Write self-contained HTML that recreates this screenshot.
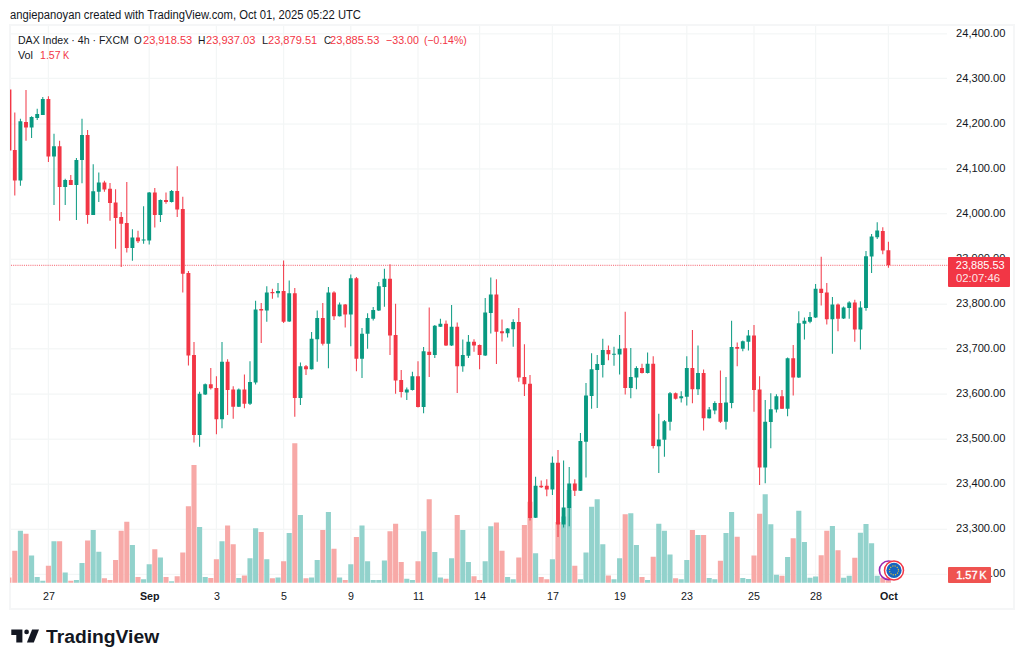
<!DOCTYPE html>
<html><head><meta charset="utf-8"><title>DAX Index</title>
<style>
html,body{margin:0;padding:0;background:#fff;}
body{width:1024px;height:665px;position:relative;overflow:hidden;font-family:"Liberation Sans",sans-serif;color:#131722;}
.t{position:absolute;white-space:pre;transform-origin:0 0;display:block;}
#frame{position:absolute;left:9px;top:24px;width:1006.2px;height:586px;border:2px solid #f5f6f7;box-sizing:border-box;}
#chart{position:absolute;left:0;top:0;}
#plabel{position:absolute;left:947.9px;top:257.3px;width:62px;height:29.5px;background:#f23645;border-radius:1px;}
#vlabel{position:absolute;left:948px;top:567px;width:43px;height:16px;background:#ef5350;border-radius:1px;}
#logo{position:absolute;left:11px;top:629px;}
</style></head><body>
<div id="frame"></div>
<svg id="chart" width="1024" height="665" viewBox="0 0 1024 665">
<g fill="#f3f6f6"><rect x="47.8" y="26" width="1.2" height="557" /><rect x="148.6" y="26" width="1.2" height="557" /><rect x="215.8" y="26" width="1.2" height="557" /><rect x="283" y="26" width="1.2" height="557" /><rect x="350.2" y="26" width="1.2" height="557" /><rect x="417.4" y="26" width="1.2" height="557" /><rect x="479" y="26" width="1.2" height="557" /><rect x="551.8" y="26" width="1.2" height="557" /><rect x="619" y="26" width="1.2" height="557" /><rect x="686.2" y="26" width="1.2" height="557" /><rect x="753.4" y="26" width="1.2" height="557" /><rect x="815" y="26" width="1.2" height="557" /><rect x="887.8" y="26" width="1.2" height="557" /><rect x="11" y="33.25" width="936" height="1.2" /><rect x="11" y="77.75" width="936" height="1.2" /><rect x="11" y="123.45" width="936" height="1.2" /><rect x="11" y="168.35" width="936" height="1.2" /><rect x="11" y="213.1" width="936" height="1.2" /><rect x="11" y="258.7" width="936" height="1.2" /><rect x="11" y="303.6" width="936" height="1.2" /><rect x="11" y="348.2" width="936" height="1.2" /><rect x="11" y="393.5" width="936" height="1.2" /><rect x="11" y="438.6" width="936" height="1.2" /><rect x="11" y="483.6" width="936" height="1.2" /><rect x="11" y="528.7" width="936" height="1.2" /><rect x="11" y="573.8" width="936" height="1.2" /></g>
<g fill="#92d2cc"><rect x="17.85" y="530.75" width="5.1" height="52"/><rect x="29.05" y="555.5" width="5.1" height="27.25"/><rect x="34.65" y="577" width="5.1" height="5.75"/><rect x="40.25" y="580.75" width="5.1" height="2"/><rect x="51.45" y="541.25" width="5.1" height="41.5"/><rect x="62.65" y="572.5" width="5.1" height="10.25"/><rect x="73.85" y="580" width="5.1" height="2.75"/><rect x="79.45" y="563" width="5.1" height="19.75"/><rect x="90.65" y="530" width="5.1" height="52.75"/><rect x="96.25" y="551.75" width="5.1" height="31"/><rect x="129.85" y="545" width="5.1" height="37.75"/><rect x="141.05" y="579.25" width="5.1" height="3.5"/><rect x="146.65" y="564.25" width="5.1" height="18.5"/><rect x="157.85" y="557.5" width="5.1" height="25.25"/><rect x="169.05" y="581.25" width="5.1" height="1.5"/><rect x="197.05" y="527" width="5.1" height="55.75"/><rect x="202.65" y="577" width="5.1" height="5.75"/><rect x="219.45" y="541.25" width="5.1" height="41.5"/><rect x="236.25" y="578" width="5.1" height="4.75"/><rect x="247.45" y="558.25" width="5.1" height="24.5"/><rect x="253.05" y="528.25" width="5.1" height="54.5"/><rect x="264.25" y="559.25" width="5.1" height="23.5"/><rect x="275.45" y="577.5" width="5.1" height="5.25"/><rect x="286.65" y="533" width="5.1" height="49.75"/><rect x="297.85" y="515" width="5.1" height="67.75"/><rect x="309.05" y="577.5" width="5.1" height="5.25"/><rect x="314.65" y="560" width="5.1" height="22.75"/><rect x="325.85" y="512" width="5.1" height="70.75"/><rect x="337.05" y="577.5" width="5.1" height="5.25"/><rect x="348.25" y="564.25" width="5.1" height="18.5"/><rect x="359.45" y="525.5" width="5.1" height="57.25"/><rect x="365.05" y="561.25" width="5.1" height="21.5"/><rect x="370.65" y="580" width="5.1" height="2.75"/><rect x="376.25" y="580" width="5.1" height="2.75"/><rect x="381.85" y="560.5" width="5.1" height="22.25"/><rect x="404.25" y="578.75" width="5.1" height="4"/><rect x="409.85" y="580" width="5.1" height="2.75"/><rect x="421.05" y="531.25" width="5.1" height="51.5"/><rect x="432.25" y="552" width="5.1" height="30.75"/><rect x="437.85" y="577.5" width="5.1" height="5.25"/><rect x="449.05" y="558.25" width="5.1" height="24.5"/><rect x="460.25" y="530" width="5.1" height="52.75"/><rect x="465.85" y="562" width="5.1" height="20.75"/><rect x="482.65" y="561.25" width="5.1" height="21.5"/><rect x="488.25" y="526.25" width="5.1" height="56.5"/><rect x="505.05" y="577" width="5.1" height="5.75"/><rect x="510.65" y="579.25" width="5.1" height="3.5"/><rect x="533.05" y="553.25" width="5.1" height="29.5"/><rect x="549.85" y="559.25" width="5.1" height="23.5"/><rect x="561.05" y="516.5" width="5.1" height="66.25"/><rect x="566.65" y="490" width="5.1" height="92.75"/><rect x="577.85" y="579.25" width="5.1" height="3.5"/><rect x="583.45" y="552.5" width="5.1" height="30.25"/><rect x="589.05" y="506.75" width="5.1" height="76"/><rect x="594.65" y="499.25" width="5.1" height="83.5"/><rect x="600.25" y="544.25" width="5.1" height="38.5"/><rect x="611.45" y="579.25" width="5.1" height="3.5"/><rect x="617.05" y="558.25" width="5.1" height="24.5"/><rect x="628.25" y="513.25" width="5.1" height="69.5"/><rect x="633.85" y="545" width="5.1" height="37.75"/><rect x="645.05" y="580" width="5.1" height="2.75"/><rect x="656.25" y="523.75" width="5.1" height="59"/><rect x="661.85" y="530.75" width="5.1" height="52"/><rect x="667.45" y="554.5" width="5.1" height="28.25"/><rect x="678.65" y="579.25" width="5.1" height="3.5"/><rect x="684.25" y="560" width="5.1" height="22.75"/><rect x="695.45" y="535" width="5.1" height="47.75"/><rect x="706.65" y="578" width="5.1" height="4.75"/><rect x="712.25" y="579.25" width="5.1" height="3.5"/><rect x="723.45" y="533" width="5.1" height="49.75"/><rect x="729.05" y="512" width="5.1" height="70.75"/><rect x="740.25" y="578" width="5.1" height="4.75"/><rect x="745.85" y="579" width="5.1" height="3.75"/><rect x="762.65" y="494.25" width="5.1" height="88.5"/><rect x="768.25" y="524.25" width="5.1" height="58.5"/><rect x="773.85" y="574.75" width="5.1" height="8"/><rect x="785.05" y="557" width="5.1" height="25.75"/><rect x="796.25" y="510.75" width="5.1" height="72"/><rect x="801.85" y="542" width="5.1" height="40.75"/><rect x="807.45" y="577.75" width="5.1" height="5"/><rect x="813.05" y="576.5" width="5.1" height="6.25"/><rect x="829.85" y="526" width="5.1" height="56.75"/><rect x="841.05" y="577.75" width="5.1" height="5"/><rect x="846.65" y="575.75" width="5.1" height="7"/><rect x="857.85" y="532.75" width="5.1" height="50"/><rect x="863.45" y="524" width="5.1" height="58.75"/><rect x="869.05" y="543.25" width="5.1" height="39.5"/><rect x="874.65" y="575.75" width="5.1" height="7"/></g>
<g fill="#f7a9a7"><rect x="10" y="577.5" width="1.4" height="5.25"/><rect x="12.25" y="550.75" width="5.1" height="32"/><rect x="23.45" y="533.75" width="5.1" height="49"/><rect x="45.85" y="565.75" width="5.1" height="17"/><rect x="57.05" y="541.25" width="5.1" height="41.5"/><rect x="68.25" y="580.75" width="5.1" height="2"/><rect x="85.05" y="540.5" width="5.1" height="42.25"/><rect x="101.85" y="578.25" width="5.1" height="4.5"/><rect x="107.45" y="580" width="5.1" height="2.75"/><rect x="113.05" y="560" width="5.1" height="22.75"/><rect x="118.65" y="530.75" width="5.1" height="52"/><rect x="124.25" y="521.75" width="5.1" height="61"/><rect x="135.45" y="577" width="5.1" height="5.75"/><rect x="152.25" y="549.25" width="5.1" height="33.5"/><rect x="163.45" y="577" width="5.1" height="5.75"/><rect x="174.65" y="576.25" width="5.1" height="6.5"/><rect x="180.25" y="552.5" width="5.1" height="30.25"/><rect x="185.85" y="506.25" width="5.1" height="76.5"/><rect x="191.45" y="465" width="5.1" height="117.75"/><rect x="208.25" y="578" width="5.1" height="4.75"/><rect x="213.85" y="559.25" width="5.1" height="23.5"/><rect x="225.05" y="525.5" width="5.1" height="57.25"/><rect x="230.65" y="544.25" width="5.1" height="38.5"/><rect x="241.85" y="575.5" width="5.1" height="7.25"/><rect x="258.65" y="532" width="5.1" height="50.75"/><rect x="269.85" y="578.25" width="5.1" height="4.5"/><rect x="281.05" y="561.25" width="5.1" height="21.5"/><rect x="292.25" y="443.25" width="5.1" height="139.5"/><rect x="303.45" y="578.25" width="5.1" height="4.5"/><rect x="320.25" y="530" width="5.1" height="52.75"/><rect x="331.45" y="548.75" width="5.1" height="34"/><rect x="342.65" y="580" width="5.1" height="2.75"/><rect x="353.85" y="537" width="5.1" height="45.75"/><rect x="387.45" y="531.25" width="5.1" height="51.5"/><rect x="393.05" y="523.75" width="5.1" height="59"/><rect x="398.65" y="562" width="5.1" height="20.75"/><rect x="415.45" y="561.25" width="5.1" height="21.5"/><rect x="426.65" y="499.25" width="5.1" height="83.5"/><rect x="443.45" y="578.75" width="5.1" height="4"/><rect x="454.65" y="515" width="5.1" height="67.75"/><rect x="471.45" y="576.25" width="5.1" height="6.5"/><rect x="477.05" y="580" width="5.1" height="2.75"/><rect x="493.85" y="522.5" width="5.1" height="60.25"/><rect x="499.45" y="550.75" width="5.1" height="32"/><rect x="516.25" y="557.5" width="5.1" height="25.25"/><rect x="521.85" y="525" width="5.1" height="57.75"/><rect x="527.45" y="501.75" width="5.1" height="81"/><rect x="538.65" y="577" width="5.1" height="5.75"/><rect x="544.25" y="579.25" width="5.1" height="3.5"/><rect x="555.45" y="522" width="5.1" height="60.75"/><rect x="572.25" y="565.75" width="5.1" height="17"/><rect x="605.85" y="575.5" width="5.1" height="7.25"/><rect x="622.65" y="514.25" width="5.1" height="68.5"/><rect x="639.45" y="577" width="5.1" height="5.75"/><rect x="650.65" y="556.75" width="5.1" height="26"/><rect x="673.05" y="578.25" width="5.1" height="4.5"/><rect x="689.85" y="530" width="5.1" height="52.75"/><rect x="701.05" y="535" width="5.1" height="47.75"/><rect x="717.85" y="560.75" width="5.1" height="22"/><rect x="734.65" y="536.75" width="5.1" height="46"/><rect x="751.45" y="555.5" width="5.1" height="27.25"/><rect x="757.05" y="513.75" width="5.1" height="69"/><rect x="779.45" y="575.75" width="5.1" height="7"/><rect x="790.65" y="538.25" width="5.1" height="44.5"/><rect x="818.65" y="555.25" width="5.1" height="27.5"/><rect x="824.25" y="530.75" width="5.1" height="52"/><rect x="835.45" y="550.25" width="5.1" height="32.5"/><rect x="852.25" y="557.75" width="5.1" height="25"/><rect x="880.25" y="577.75" width="5.1" height="5"/><rect x="885.85" y="580.25" width="5.1" height="2.5"/></g>
<line x1="11" y1="265.4" x2="948" y2="265.4" stroke="#f23645" stroke-opacity="0.62" stroke-width="1.15" stroke-dasharray="1.05 1.1"/>
<g fill="#089981"><rect x="19.9" y="118.75" width="1" height="67"/><rect x="18.45" y="121.25" width="3.9" height="59.25"/><rect x="31.1" y="116.25" width="1" height="21.75"/><rect x="29.65" y="117" width="3.9" height="10.5"/><rect x="36.7" y="108.75" width="1" height="11.25"/><rect x="35.25" y="114" width="3.9" height="4"/><rect x="42.3" y="97" width="1" height="18"/><rect x="40.85" y="99" width="3.9" height="16"/><rect x="53.5" y="133.75" width="1" height="71.25"/><rect x="52.05" y="146.25" width="3.9" height="10.25"/><rect x="64.7" y="178.75" width="1" height="26.25"/><rect x="63.25" y="180" width="3.9" height="7"/><rect x="75.9" y="158" width="1" height="62"/><rect x="74.45" y="160" width="3.9" height="25"/><rect x="81.5" y="118.75" width="1" height="64.5"/><rect x="80.05" y="135" width="3.9" height="25"/><rect x="92.7" y="164.25" width="1" height="50.75"/><rect x="91.25" y="191.25" width="3.9" height="23.75"/><rect x="98.3" y="172.5" width="1" height="29.5"/><rect x="96.85" y="182.5" width="3.9" height="9.25"/><rect x="131.9" y="229.25" width="1" height="31.5"/><rect x="130.45" y="237.5" width="3.9" height="10.5"/><rect x="143.1" y="206.25" width="1" height="37.5"/><rect x="141.65" y="239.5" width="3.9" height="1"/><rect x="148.7" y="192" width="1" height="52.5"/><rect x="147.25" y="192.5" width="3.9" height="48"/><rect x="159.9" y="199.5" width="1" height="22.5"/><rect x="158.45" y="200" width="3.9" height="15"/><rect x="171.1" y="190" width="1" height="12.5"/><rect x="169.65" y="191" width="3.9" height="11"/><rect x="199.1" y="391.75" width="1" height="55"/><rect x="197.65" y="393.75" width="3.9" height="41.25"/><rect x="204.7" y="383.5" width="1" height="11.5"/><rect x="203.25" y="384.25" width="3.9" height="10.25"/><rect x="221.5" y="342" width="1" height="86.25"/><rect x="220.05" y="361.75" width="3.9" height="57.5"/><rect x="238.3" y="388.5" width="1" height="18.5"/><rect x="236.85" y="389.5" width="3.9" height="17.25"/><rect x="249.5" y="361.25" width="1" height="43.75"/><rect x="248.05" y="382" width="3.9" height="21.75"/><rect x="255.1" y="300.75" width="1" height="83.75"/><rect x="253.65" y="309.5" width="3.9" height="73"/><rect x="266.3" y="286.25" width="1" height="35.5"/><rect x="264.85" y="292.5" width="3.9" height="18"/><rect x="277.5" y="283" width="1" height="14.5"/><rect x="276.05" y="291" width="3.9" height="2.25"/><rect x="288.7" y="280.5" width="1" height="41.5"/><rect x="287.25" y="293.25" width="3.9" height="28.25"/><rect x="299.9" y="362.5" width="1" height="42.5"/><rect x="298.45" y="366.25" width="3.9" height="31.75"/><rect x="311.1" y="332" width="1" height="37.5"/><rect x="309.65" y="338.75" width="3.9" height="30.5"/><rect x="316.7" y="310.5" width="1" height="51.25"/><rect x="315.25" y="318" width="3.9" height="21.25"/><rect x="327.9" y="287" width="1" height="81.25"/><rect x="326.45" y="292.5" width="3.9" height="51.25"/><rect x="339.1" y="302.5" width="1" height="14"/><rect x="337.65" y="304.5" width="3.9" height="11.75"/><rect x="350.3" y="274.5" width="1" height="71.75"/><rect x="348.85" y="278.25" width="3.9" height="36.25"/><rect x="361.5" y="328" width="1" height="50"/><rect x="360.05" y="333.75" width="3.9" height="25"/><rect x="367.1" y="313.25" width="1" height="35.5"/><rect x="365.65" y="318" width="3.9" height="15.75"/><rect x="372.7" y="307" width="1" height="13.5"/><rect x="371.25" y="310" width="3.9" height="8.75"/><rect x="378.3" y="282" width="1" height="29"/><rect x="376.85" y="286.25" width="3.9" height="24.25"/><rect x="383.9" y="268.75" width="1" height="38"/><rect x="382.45" y="278.75" width="3.9" height="8.25"/><rect x="406.3" y="387.5" width="1" height="12.5"/><rect x="404.85" y="389.5" width="3.9" height="3"/><rect x="411.9" y="371.75" width="1" height="18.75"/><rect x="410.45" y="376.25" width="3.9" height="13.75"/><rect x="423.1" y="347" width="1" height="66.25"/><rect x="421.65" y="351.25" width="3.9" height="55.75"/><rect x="434.3" y="325" width="1" height="33"/><rect x="432.85" y="325.75" width="3.9" height="29.25"/><rect x="439.9" y="318.75" width="1" height="8.25"/><rect x="438.45" y="323.75" width="3.9" height="3"/><rect x="451.1" y="305" width="1" height="41"/><rect x="449.65" y="326.75" width="3.9" height="18.75"/><rect x="462.3" y="339.5" width="1" height="32.25"/><rect x="460.85" y="355" width="3.9" height="11.25"/><rect x="467.9" y="335" width="1" height="23"/><rect x="466.45" y="341.75" width="3.9" height="14"/><rect x="484.7" y="298" width="1" height="58"/><rect x="483.25" y="312.5" width="3.9" height="43"/><rect x="490.3" y="277.5" width="1" height="56"/><rect x="488.85" y="294.5" width="3.9" height="18.5"/><rect x="507.1" y="328" width="1" height="9.5"/><rect x="505.65" y="328.5" width="3.9" height="4.75"/><rect x="512.7" y="319.25" width="1" height="27.5"/><rect x="511.25" y="322" width="3.9" height="7.25"/><rect x="535.1" y="476.75" width="1" height="41.25"/><rect x="533.65" y="485.75" width="3.9" height="32"/><rect x="551.9" y="456.5" width="1" height="38.5"/><rect x="550.45" y="462.75" width="3.9" height="26.75"/><rect x="563.1" y="460.5" width="1" height="67"/><rect x="561.65" y="507.5" width="3.9" height="17"/><rect x="568.7" y="467" width="1" height="59.25"/><rect x="567.25" y="483.5" width="3.9" height="24.5"/><rect x="579.9" y="433" width="1" height="58"/><rect x="578.45" y="441" width="3.9" height="49.75"/><rect x="585.5" y="383" width="1" height="94.5"/><rect x="584.05" y="395.5" width="3.9" height="46.25"/><rect x="591.1" y="353.25" width="1" height="55.5"/><rect x="589.65" y="369.25" width="3.9" height="26.75"/><rect x="596.7" y="355" width="1" height="53"/><rect x="595.25" y="364" width="3.9" height="6"/><rect x="602.3" y="338.75" width="1" height="38.75"/><rect x="600.85" y="350" width="3.9" height="15"/><rect x="613.5" y="346.75" width="1" height="19"/><rect x="612.05" y="353.75" width="3.9" height="1"/><rect x="619.1" y="335" width="1" height="39.5"/><rect x="617.65" y="348.75" width="3.9" height="5.75"/><rect x="630.3" y="348" width="1" height="50.25"/><rect x="628.85" y="377" width="3.9" height="11"/><rect x="635.9" y="366.25" width="1" height="23"/><rect x="634.45" y="368" width="3.9" height="9.5"/><rect x="647.1" y="352.5" width="1" height="21"/><rect x="645.65" y="363.75" width="3.9" height="9.25"/><rect x="658.3" y="413.75" width="1" height="59.25"/><rect x="656.85" y="439.5" width="3.9" height="6.75"/><rect x="663.9" y="420" width="1" height="36.75"/><rect x="662.45" y="421.25" width="3.9" height="18.5"/><rect x="669.5" y="392" width="1" height="38.5"/><rect x="668.05" y="393.25" width="3.9" height="28.5"/><rect x="680.7" y="391.25" width="1" height="11.25"/><rect x="679.25" y="396.25" width="3.9" height="2"/><rect x="686.3" y="356.25" width="1" height="49.25"/><rect x="684.85" y="368" width="3.9" height="28.75"/><rect x="697.5" y="345.5" width="1" height="49.5"/><rect x="696.05" y="373" width="3.9" height="16.25"/><rect x="708.7" y="407" width="1" height="11.5"/><rect x="707.25" y="409.5" width="3.9" height="8.75"/><rect x="714.3" y="401.25" width="1" height="13"/><rect x="712.85" y="403" width="3.9" height="7.5"/><rect x="725.5" y="377" width="1" height="52.5"/><rect x="724.05" y="402.5" width="3.9" height="19.25"/><rect x="731.1" y="320.75" width="1" height="87.5"/><rect x="729.65" y="347" width="3.9" height="56"/><rect x="742.3" y="340.5" width="1" height="10.75"/><rect x="740.85" y="341.25" width="3.9" height="7.5"/><rect x="747.9" y="330" width="1" height="20.5"/><rect x="746.45" y="335.5" width="3.9" height="6.25"/><rect x="764.7" y="400" width="1" height="83.25"/><rect x="763.25" y="421.75" width="3.9" height="45.75"/><rect x="770.3" y="393.25" width="1" height="55"/><rect x="768.85" y="409.25" width="3.9" height="12.75"/><rect x="775.9" y="394.25" width="1" height="18.25"/><rect x="774.45" y="396.25" width="3.9" height="13.25"/><rect x="787.1" y="357.5" width="1" height="58.75"/><rect x="785.65" y="358.25" width="3.9" height="50.5"/><rect x="798.3" y="311.25" width="1" height="66.75"/><rect x="796.85" y="323.25" width="3.9" height="54.25"/><rect x="803.9" y="317.5" width="1" height="22"/><rect x="802.45" y="320.75" width="3.9" height="3"/><rect x="809.5" y="312" width="1" height="11.25"/><rect x="808.05" y="317" width="3.9" height="4.75"/><rect x="815.1" y="284" width="1" height="34"/><rect x="813.65" y="288.75" width="3.9" height="28.75"/><rect x="831.9" y="297" width="1" height="56.75"/><rect x="830.45" y="304.5" width="3.9" height="14.75"/><rect x="843.1" y="306.5" width="1" height="12.5"/><rect x="841.65" y="307.5" width="3.9" height="11"/><rect x="848.7" y="301.25" width="1" height="17.5"/><rect x="847.25" y="302.5" width="3.9" height="5.5"/><rect x="859.9" y="301.25" width="1" height="48.25"/><rect x="858.45" y="307.5" width="3.9" height="22"/><rect x="865.5" y="251" width="1" height="59.75"/><rect x="864.05" y="256.25" width="3.9" height="51.75"/><rect x="871.1" y="234" width="1" height="39"/><rect x="869.65" y="236.5" width="3.9" height="20"/><rect x="876.7" y="222.25" width="1" height="16.75"/><rect x="875.25" y="230.5" width="3.9" height="6.75"/></g>
<g fill="#f23645"><rect x="10" y="89.5" width="1.4" height="61"/><rect x="14.3" y="112.5" width="1" height="83"/><rect x="12.85" y="150" width="3.9" height="30.5"/><rect x="25.5" y="90" width="1" height="50.75"/><rect x="24.05" y="122" width="3.9" height="5.5"/><rect x="47.9" y="96.25" width="1" height="65.75"/><rect x="46.45" y="99" width="3.9" height="57.5"/><rect x="59.1" y="140.75" width="1" height="80"/><rect x="57.65" y="146.25" width="3.9" height="40.75"/><rect x="70.3" y="175" width="1" height="10"/><rect x="68.85" y="180" width="3.9" height="5"/><rect x="87.1" y="130" width="1" height="93.75"/><rect x="85.65" y="135" width="3.9" height="80"/><rect x="103.9" y="180.75" width="1" height="11"/><rect x="102.45" y="182.5" width="3.9" height="7"/><rect x="109.5" y="183" width="1" height="37.75"/><rect x="108.05" y="188.75" width="3.9" height="14.25"/><rect x="115.1" y="189.25" width="1" height="59.5"/><rect x="113.65" y="202.5" width="3.9" height="15.5"/><rect x="120.7" y="212" width="1" height="55"/><rect x="119.25" y="217" width="3.9" height="6.75"/><rect x="126.3" y="182" width="1" height="70.5"/><rect x="124.85" y="223" width="3.9" height="25"/><rect x="137.5" y="230.75" width="1" height="12.25"/><rect x="136.05" y="237.5" width="3.9" height="3.75"/><rect x="154.3" y="188" width="1" height="39.5"/><rect x="152.85" y="192.5" width="3.9" height="22.5"/><rect x="165.5" y="192.5" width="1" height="11.25"/><rect x="164.05" y="200" width="3.9" height="2"/><rect x="176.7" y="166.25" width="1" height="50.75"/><rect x="175.25" y="191" width="3.9" height="18.5"/><rect x="182.3" y="196.75" width="1" height="95.75"/><rect x="180.85" y="209" width="3.9" height="64.75"/><rect x="187.9" y="271" width="1" height="94.5"/><rect x="186.45" y="273" width="3.9" height="82.5"/><rect x="193.5" y="342" width="1" height="100.5"/><rect x="192.05" y="355" width="3.9" height="80"/><rect x="210.3" y="368" width="1" height="21.5"/><rect x="208.85" y="384.25" width="3.9" height="4"/><rect x="215.9" y="376.25" width="1" height="58"/><rect x="214.45" y="388" width="3.9" height="31.25"/><rect x="227.1" y="359.25" width="1" height="55.75"/><rect x="225.65" y="361.75" width="3.9" height="28.25"/><rect x="232.7" y="386.25" width="1" height="32.5"/><rect x="231.25" y="389.5" width="3.9" height="17.25"/><rect x="243.9" y="374.5" width="1" height="33.75"/><rect x="242.45" y="389.5" width="3.9" height="14.25"/><rect x="260.7" y="303" width="1" height="40"/><rect x="259.25" y="309" width="3.9" height="1.5"/><rect x="271.9" y="288.75" width="1" height="10"/><rect x="270.45" y="292" width="3.9" height="1.25"/><rect x="283.1" y="260.5" width="1" height="62.5"/><rect x="281.65" y="291" width="3.9" height="30.75"/><rect x="294.3" y="288" width="1" height="128.75"/><rect x="292.85" y="293.25" width="3.9" height="104.75"/><rect x="305.5" y="365" width="1" height="10"/><rect x="304.05" y="366.25" width="3.9" height="3"/><rect x="322.3" y="303" width="1" height="42.5"/><rect x="320.85" y="318" width="3.9" height="25.75"/><rect x="333.5" y="291.25" width="1" height="28.75"/><rect x="332.05" y="292.5" width="3.9" height="23.75"/><rect x="344.7" y="304" width="1" height="23.5"/><rect x="343.25" y="304.5" width="3.9" height="10"/><rect x="355.9" y="277" width="1" height="94.25"/><rect x="354.45" y="278.25" width="3.9" height="80.5"/><rect x="389.5" y="264.25" width="1" height="90.75"/><rect x="388.05" y="278.75" width="3.9" height="56.75"/><rect x="395.1" y="303.75" width="1" height="90"/><rect x="393.65" y="335" width="3.9" height="45.5"/><rect x="400.7" y="370" width="1" height="27.5"/><rect x="399.25" y="380" width="3.9" height="12"/><rect x="417.5" y="361.25" width="1" height="46.25"/><rect x="416.05" y="376.25" width="3.9" height="30.75"/><rect x="428.7" y="307.5" width="1" height="69.5"/><rect x="427.25" y="351.75" width="3.9" height="3.25"/><rect x="445.5" y="320.5" width="1" height="25.5"/><rect x="444.05" y="323.75" width="3.9" height="21.75"/><rect x="456.7" y="322.5" width="1" height="70.5"/><rect x="455.25" y="326.75" width="3.9" height="39.5"/><rect x="473.5" y="339.25" width="1" height="12.5"/><rect x="472.05" y="341.75" width="3.9" height="3.75"/><rect x="479.1" y="344.5" width="1" height="24.75"/><rect x="477.65" y="345" width="3.9" height="10"/><rect x="495.9" y="279.25" width="1" height="84.75"/><rect x="494.45" y="294.5" width="3.9" height="37.25"/><rect x="501.5" y="319.5" width="1" height="22"/><rect x="500.05" y="331.25" width="3.9" height="2"/><rect x="518.3" y="308" width="1" height="73.75"/><rect x="516.85" y="322" width="3.9" height="55.5"/><rect x="523.9" y="344.25" width="1" height="51.75"/><rect x="522.45" y="377" width="3.9" height="7.25"/><rect x="529.5" y="375" width="1" height="145.5"/><rect x="528.05" y="383.75" width="3.9" height="134.25"/><rect x="540.7" y="480.5" width="1" height="7.5"/><rect x="539.25" y="485.75" width="3.9" height="1.5"/><rect x="546.3" y="479.25" width="1" height="17"/><rect x="544.85" y="485.75" width="3.9" height="3.75"/><rect x="557.5" y="450" width="1" height="87"/><rect x="556.05" y="462.75" width="3.9" height="61.75"/><rect x="574.3" y="479.25" width="1" height="16.75"/><rect x="572.85" y="483.5" width="3.9" height="7.25"/><rect x="607.9" y="345.5" width="1" height="14.75"/><rect x="606.45" y="350" width="3.9" height="4.25"/><rect x="624.7" y="311.75" width="1" height="82.75"/><rect x="623.25" y="348.25" width="3.9" height="39.75"/><rect x="641.5" y="363.75" width="1" height="9.75"/><rect x="640.05" y="368" width="3.9" height="5"/><rect x="652.7" y="356.25" width="1" height="92.25"/><rect x="651.25" y="363.75" width="3.9" height="82.25"/><rect x="675.1" y="392.5" width="1" height="7"/><rect x="673.65" y="393.25" width="3.9" height="5.5"/><rect x="691.9" y="330" width="1" height="73.25"/><rect x="690.45" y="368" width="3.9" height="21.25"/><rect x="703.1" y="369.5" width="1" height="61"/><rect x="701.65" y="373" width="3.9" height="45.25"/><rect x="719.9" y="370.5" width="1" height="52.5"/><rect x="718.45" y="403" width="3.9" height="18.75"/><rect x="736.7" y="342.5" width="1" height="23.75"/><rect x="735.25" y="347" width="3.9" height="1.75"/><rect x="753.5" y="325" width="1" height="86.75"/><rect x="752.05" y="335.5" width="3.9" height="54.5"/><rect x="759.1" y="376.25" width="1" height="108.75"/><rect x="757.65" y="389.5" width="3.9" height="78"/><rect x="781.5" y="390" width="1" height="19"/><rect x="780.05" y="396.25" width="3.9" height="12.5"/><rect x="792.7" y="345" width="1" height="50.5"/><rect x="791.25" y="358.25" width="3.9" height="19.25"/><rect x="820.7" y="256.75" width="1" height="48.75"/><rect x="819.25" y="288.75" width="3.9" height="4.25"/><rect x="826.3" y="283" width="1" height="41.5"/><rect x="824.85" y="292.5" width="3.9" height="26.75"/><rect x="837.5" y="303.5" width="1" height="27.75"/><rect x="836.05" y="304.5" width="3.9" height="14.25"/><rect x="854.3" y="299.75" width="1" height="42"/><rect x="852.85" y="302.5" width="3.9" height="27"/><rect x="882.3" y="227.25" width="1" height="27"/><rect x="880.85" y="231" width="3.9" height="19.5"/><rect x="887.9" y="241.75" width="1" height="26"/><rect x="886.45" y="250.25" width="3.9" height="15"/></g>
<g>
<circle cx="888.7" cy="570.3" r="9.3" fill="#fff" stroke="#9c27b0" stroke-width="1.6"/>
<circle cx="894" cy="570.4" r="9.5" fill="#fff" stroke="#f23645" stroke-width="1.5"/>
<circle cx="894" cy="570.4" r="7.6" fill="#1565c0"/>
<circle cx="894" cy="570.4" r="4.5" fill="none" stroke="#d9bd3c" stroke-width="1.2" stroke-dasharray="1.2 1.16"/>
</g>
</svg>
<span class="t" style="left:9.6px;top:8.64px;font-size:12px;line-height:13.79px;color:#131722;transform:scaleX(0.9368);">angiepanoyan created with TradingView.com, Oct 01, 2025 05:22 UTC</span>
<span class="t" style="left:17.5px;top:34.05px;font-size:11px;line-height:12.64px;color:#131722;transform:scaleX(0.9589);">DAX Index · 4h · FXCM</span>
<span class="t" style="left:134.2px;top:34.05px;font-size:11px;line-height:12.64px;color:#131722;transform:scaleX(0.8993);">O</span>
<span class="t" style="left:142.8px;top:34.05px;font-size:11px;line-height:12.64px;color:#f23645;transform:scaleX(1.0054);">23,918.53</span>
<span class="t" style="left:198.3px;top:34.05px;font-size:11px;line-height:12.64px;color:#131722;transform:scaleX(0.9305);">H</span>
<span class="t" style="left:206px;top:34.05px;font-size:11px;line-height:12.64px;color:#f23645;transform:scaleX(1.0095);">23,937.03</span>
<span class="t" style="left:261.9px;top:34.05px;font-size:11px;line-height:12.64px;color:#131722;">L</span>
<span class="t" style="left:268.3px;top:34.05px;font-size:11px;line-height:12.64px;color:#f23645;transform:scaleX(1.0054);">23,879.51</span>
<span class="t" style="left:323.5px;top:34.05px;font-size:11px;line-height:12.64px;color:#131722;transform:scaleX(0.8927);">C</span>
<span class="t" style="left:329.8px;top:34.05px;font-size:11px;line-height:12.64px;color:#f23645;transform:scaleX(1.0095);">23,885.53</span>
<span class="t" style="left:386.3px;top:34.05px;font-size:11px;line-height:12.64px;color:#f23645;transform:scaleX(0.9690);">−33.00</span>
<span class="t" style="left:423.6px;top:34.05px;font-size:11px;line-height:12.64px;color:#f23645;transform:scaleX(0.9499);">(−0.14%)</span>
<span class="t" style="left:17.5px;top:49.3px;font-size:11px;line-height:12.64px;color:#131722;transform:scaleX(0.9806);">Vol</span>
<span class="t" style="left:39.6px;top:49.3px;font-size:11px;line-height:12.64px;color:#f23645;transform:scaleX(0.9616);">1.57</span>
<span class="t" style="left:62.8px;top:49.3px;font-size:11px;line-height:12.64px;color:#f23645;transform:scaleX(0.8443);">K</span>
<span class="t" style="left:955.6px;top:26.9px;font-size:11px;line-height:12.64px;color:#131722;transform:scaleX(1.0115);">24,400.00</span>
<span class="t" style="left:955.6px;top:71.94px;font-size:11px;line-height:12.64px;color:#131722;transform:scaleX(1.0115);">24,300.00</span>
<span class="t" style="left:955.6px;top:116.98px;font-size:11px;line-height:12.64px;color:#131722;transform:scaleX(1.0115);">24,200.00</span>
<span class="t" style="left:955.6px;top:162.01px;font-size:11px;line-height:12.64px;color:#131722;transform:scaleX(1.0115);">24,100.00</span>
<span class="t" style="left:955.6px;top:207.05px;font-size:11px;line-height:12.64px;color:#131722;transform:scaleX(1.0115);">24,000.00</span>
<span class="t" style="left:955.6px;top:252.09px;font-size:11px;line-height:12.64px;color:#131722;transform:scaleX(1.0115);">23,900.00</span>
<span class="t" style="left:955.6px;top:297.14px;font-size:11px;line-height:12.64px;color:#131722;transform:scaleX(1.0115);">23,800.00</span>
<span class="t" style="left:955.6px;top:342.18px;font-size:11px;line-height:12.64px;color:#131722;transform:scaleX(1.0115);">23,700.00</span>
<span class="t" style="left:955.6px;top:387.22px;font-size:11px;line-height:12.64px;color:#131722;transform:scaleX(1.0115);">23,600.00</span>
<span class="t" style="left:955.6px;top:432.26px;font-size:11px;line-height:12.64px;color:#131722;transform:scaleX(1.0115);">23,500.00</span>
<span class="t" style="left:955.6px;top:477.3px;font-size:11px;line-height:12.64px;color:#131722;transform:scaleX(1.0115);">23,400.00</span>
<span class="t" style="left:955.6px;top:522.33px;font-size:11px;line-height:12.64px;color:#131722;transform:scaleX(1.0115);">23,300.00</span>
<span class="t" style="left:955.6px;top:567.38px;font-size:11px;line-height:12.64px;color:#131722;transform:scaleX(1.0115);">23,200.00</span>
<span class="t" style="left:42.71px;top:589.94px;font-size:11px;line-height:12.64px;color:#131722;transform:scaleX(0.9700);">27</span>
<span class="t" style="left:139.66px;top:589.94px;font-size:11px;line-height:12.64px;color:#131722;font-weight:bold;transform:scaleX(0.9700);">Sep</span>
<span class="t" style="left:213.68px;top:589.94px;font-size:11px;line-height:12.64px;color:#131722;transform:scaleX(0.9700);">3</span>
<span class="t" style="left:280.88px;top:589.94px;font-size:11px;line-height:12.64px;color:#131722;transform:scaleX(0.9700);">5</span>
<span class="t" style="left:348.08px;top:589.94px;font-size:11px;line-height:12.64px;color:#131722;transform:scaleX(0.9700);">9</span>
<span class="t" style="left:412.71px;top:589.94px;font-size:11px;line-height:12.64px;color:#131722;transform:scaleX(0.9700);">11</span>
<span class="t" style="left:473.91px;top:589.94px;font-size:11px;line-height:12.64px;color:#131722;transform:scaleX(0.9700);">14</span>
<span class="t" style="left:546.71px;top:589.94px;font-size:11px;line-height:12.64px;color:#131722;transform:scaleX(0.9700);">17</span>
<span class="t" style="left:613.91px;top:589.94px;font-size:11px;line-height:12.64px;color:#131722;transform:scaleX(0.9700);">19</span>
<span class="t" style="left:681.11px;top:589.94px;font-size:11px;line-height:12.64px;color:#131722;transform:scaleX(0.9700);">23</span>
<span class="t" style="left:748.31px;top:589.94px;font-size:11px;line-height:12.64px;color:#131722;transform:scaleX(0.9700);">25</span>
<span class="t" style="left:809.91px;top:589.94px;font-size:11px;line-height:12.64px;color:#131722;transform:scaleX(0.9700);">28</span>
<span class="t" style="left:879.75px;top:589.94px;font-size:11px;line-height:12.64px;color:#131722;font-weight:bold;transform:scaleX(0.9700);">Oct</span>
<span class="t" style="left:46.2px;top:626.81px;font-size:18px;line-height:20.68px;color:#131722;font-weight:bold;transform:scaleX(1.0709);">TradingView</span>
<div id="plabel"></div>
<div id="vlabel"></div>
<span class="t" style="left:955.8px;top:259.2px;font-size:11px;line-height:12.6px;color:#fff">23,885.53</span>
<span class="t" style="left:955.8px;top:272.2px;font-size:11px;line-height:12.6px;color:#fff;opacity:.88;transform:scaleX(1.03)">02:07:46</span>
<span class="t" style="left:956.2px;top:568.8px;font-size:11px;line-height:12.6px;color:#fff;-webkit-text-stroke:0.35px #fff">1.57</span><span class="t" style="left:979.3px;top:568.8px;font-size:11px;line-height:12.6px;color:#fff;-webkit-text-stroke:0.35px #fff">K</span>
<svg id="logo" width="29" height="15" viewBox="0 0 29 15"><path fill="#131722" d="M0.3 0.6h11.1v13H5.3V6H0.3z"/><circle cx="15.6" cy="2.9" r="2.35" fill="#131722"/><path fill="#131722" d="M21.1 0.6h6.9l-5.2 13h-6.9z"/></svg>
</body></html>
